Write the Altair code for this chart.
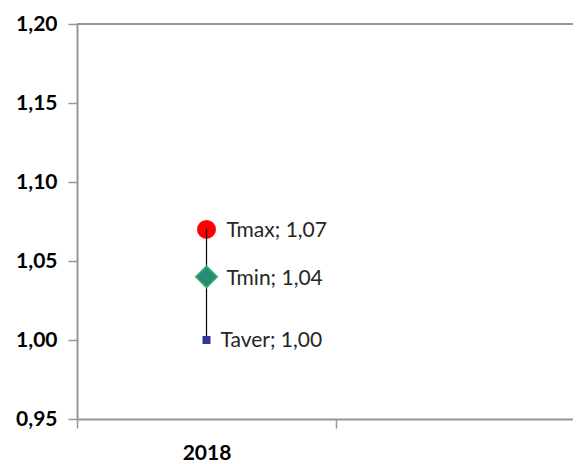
import altair as alt
import pandas as pd

categories = ["2018", " "]
series = ["Tmax", "Tmin", "Taver"]
values = [1.07, 1.04, 1.00]
year = ["2018", "2018", "2018"]
y_ticks = [0.95, 1.00, 1.05, 1.10, 1.15, 1.20]

df = pd.DataFrame({"year": year, "series": series, "value": values})

GRAY = "#969696"
FONT = "Lato"

x_enc = alt.X(
    "year:N",
    scale=alt.Scale(domain=categories, paddingInner=0, paddingOuter=0, range=[0, 518]),
    axis=alt.Axis(
        title=None, labelAngle=0, labelFont=FONT, labelFontSize=21,
        labelFontWeight="bold", labelColor="#000000", labelPadding=14,
        domainColor=GRAY, domainWidth=2, tickColor=GRAY, tickWidth=1.5,
        tickSize=9, tickBand="extent", grid=False,
    ),
)
y_scale = alt.Scale(domain=[0.95, 1.20], nice=False, zero=False)
y_axis = alt.Axis(
    title=None, values=y_ticks, grid=False,
    labelExpr="replace(format(datum.value, '.2f'), '.', ',')",
    labelFont=FONT, labelFontSize=21, labelFontWeight="bold",
    labelColor="#000000", labelPadding=11,
    domainColor=GRAY, domainWidth=2, tickColor=GRAY, tickWidth=1.5, tickSize=9,
)

base = alt.Chart(df).encode(x=x_enc)

top_border = alt.Chart(df).transform_filter(alt.datum.series == "Tmax").mark_rule(
    color=GRAY, strokeWidth=2
).encode(x=alt.value(0), x2=alt.value(518), y=alt.datum(1.20, scale=y_scale))

circle = base.transform_filter(alt.datum.series == "Tmax").mark_point(
    shape="circle", filled=True, color="#FF0000", size=361, opacity=1
).encode(y=alt.Y("value:Q", scale=y_scale, axis=y_axis))

line = base.transform_aggregate(
    hi="max(value)", lo="min(value)", groupby=["year"]
).mark_rule(color="#000000", strokeWidth=1.2).encode(
    y=alt.Y("hi:Q", scale=y_scale), y2="lo:Q"
)

diamond = base.transform_filter(alt.datum.series == "Tmin").mark_point(
    shape="diamond", filled=True, fill="#2A8A78", stroke="#3CB371",
    strokeWidth=1.5, size=470, opacity=1
).encode(y=alt.Y("value:Q", scale=y_scale))

square = base.transform_filter(alt.datum.series == "Taver").mark_point(
    shape="square", filled=True, color="#333399", size=64, opacity=1
).encode(y=alt.Y("value:Q", scale=y_scale))

label_base = base.transform_calculate(
    label="datum.series + '; ' + replace(format(datum.value, '.2f'), '.', ',')"
)
labels_top = label_base.transform_filter(alt.datum.series != "Taver").mark_text(
    align="left", baseline="middle", dx=20, dy=2, font=FONT, fontSize=21, color="#262626"
).encode(y=alt.Y("value:Q", scale=y_scale), text="label:N")
labels_bottom = label_base.transform_filter(alt.datum.series == "Taver").mark_text(
    align="left", baseline="middle", dx=14, dy=1, font=FONT, fontSize=21, color="#262626"
).encode(y=alt.Y("value:Q", scale=y_scale), text="label:N")

chart = alt.layer(
    top_border, circle, line, diamond, square, labels_top, labels_bottom
).properties(
    width=496, height=395,
    autosize=alt.AutoSizeParams(type="none"),
    padding={"left": 69, "top": 16, "right": 0, "bottom": 45},
).configure_view(strokeWidth=0).configure(background="#ffffff")

chart.save("out.html", embed_options={"renderer": "svg", "actions": False})
